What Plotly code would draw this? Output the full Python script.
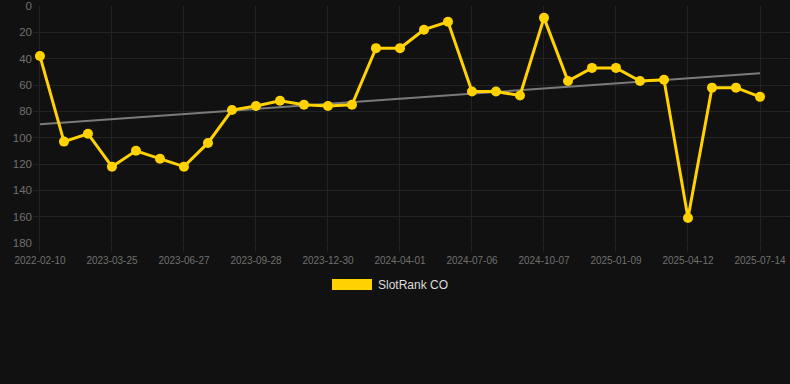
import numpy as np
import plotly.graph_objects as go

dates = [
    "2022-02-10", "2023-01-20", "2023-02-22", "2023-03-25", "2023-04-26", "2023-05-27",
    "2023-06-27", "2023-07-28", "2023-08-28", "2023-09-28", "2023-10-29", "2023-11-29",
    "2023-12-30", "2024-01-30", "2024-03-01", "2024-04-01", "2024-05-03", "2024-06-04",
    "2024-07-06", "2024-08-06", "2024-09-06", "2024-10-07", "2024-11-07", "2024-12-09",
    "2025-01-09", "2025-02-09", "2025-03-12", "2025-04-12", "2025-05-13", "2025-06-13",
    "2025-07-14",
]
ranks = [38, 103, 97, 122, 110, 116, 122, 104, 79, 76, 72, 75, 76, 75, 32, 32, 18, 12,
         65, 65, 68, 9, 57, 47, 47, 57, 56, 161, 62, 62, 69]
tick_labels = dates[::3]
y_ticks = [0, 20, 40, 60, 80, 100, 120, 140, 160, 180]
series_name = "SlotRank CO"

idx = np.arange(len(ranks))
slope, intercept = np.polyfit(idx, ranks, 1)
trend_x = [dates[0], dates[-1]]
trend_y = [intercept, intercept + slope * idx[-1]]

GRID = "#232323"
fig = go.Figure()
fig.add_trace(go.Scatter(
    x=dates, y=ranks, mode="lines+markers", name=series_name,
    line=dict(color="#FFD200", width=3), marker=dict(color="#FFD200", size=10),
    showlegend=False))
fig.add_trace(go.Scatter(
    x=trend_x, y=trend_y, mode="lines",
    line=dict(color="#7a7a7a", width=2), showlegend=False, hoverinfo="skip"))
# draw data line above the trend line
fig.data = (fig.data[1], fig.data[0])

fig.update_layout(
    width=790, height=384,
    margin=dict(l=33, r=0, t=6, b=141),
    paper_bgcolor="#111111", plot_bgcolor="#111111",
    font=dict(family="Liberation Sans, Arial, sans-serif", color="#777777"),
    xaxis=dict(type="category", categoryorder="array", categoryarray=dates,
               range=[-0.29, 31.25], tickmode="array",
               tickvals=tick_labels, ticktext=tick_labels,
               showgrid=True, gridcolor=GRID, gridwidth=1, zeroline=False,
               ticks="outside", ticklen=8, tickcolor=GRID,
               tickfont=dict(size=10, color="#707070"), showline=False),
    yaxis=dict(range=[180, 0], tickmode="array", tickvals=y_ticks,
               showgrid=True, gridcolor=GRID, gridwidth=1, zeroline=False,
               tickfont=dict(size=11.5, color="#707070"), showline=False, ticks=""),
    shapes=[dict(type="rect", xref="paper", yref="paper",
                 x0=(332 - 33) / 757, x1=(372 - 33) / 757,
                 y0=(243 - 290) / 237, y1=(243 - 279) / 237,
                 fillcolor="#FFD200", line=dict(width=0))],
    annotations=[dict(text=series_name, xref="paper", yref="paper",
                      x=(376 - 33) / 757, y=(243 - 285) / 237,
                      xanchor="left", yanchor="middle", showarrow=False,
                      font=dict(size=12, color="#dddddd"))],
)
fig.write_html("out.html", config={"displayModeBar": False},
               post_script="document.body.style.margin='0';")
